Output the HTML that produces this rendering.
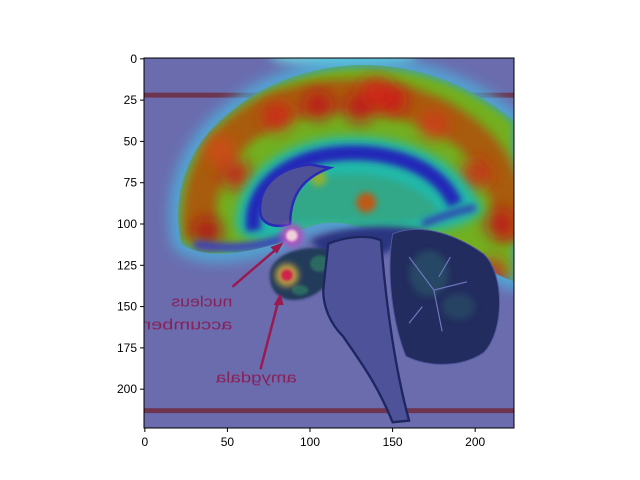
<!DOCTYPE html>
<html><head><meta charset="utf-8">
<style>
html,body{margin:0;padding:0;background:#fff;}
svg{display:block;font-family:"Liberation Sans","DejaVu Sans",sans-serif;}
</style></head>
<body>
<svg id="chart" width="640" height="480" viewBox="0 0 640 480" xmlns="http://www.w3.org/2000/svg">
<defs>
  <filter id="b2" x="-50%" y="-50%" width="200%" height="200%"><feGaussianBlur stdDeviation="2"/></filter>
  <filter id="b3" x="-50%" y="-50%" width="200%" height="200%"><feGaussianBlur stdDeviation="3"/></filter>
  <filter id="b4" x="-50%" y="-50%" width="200%" height="200%"><feGaussianBlur stdDeviation="4.5"/></filter>
  <filter id="b1" x="-50%" y="-50%" width="200%" height="200%"><feGaussianBlur stdDeviation="0.8"/></filter>
  <clipPath id="axclip"><rect x="-0.5" y="-0.5" width="224" height="224"/></clipPath>
  <clipPath id="brainclip"><path d="M22,112 C15,80 28,50 52,32 C75,12 110,2 140,4 C172,6 200,18 224,38 L224,135 C205,128 180,112 158,104 L130,102 C112,96 96,100 86,110 C62,118 36,122 22,112 Z"/></clipPath>
</defs>
<g id="img"></g>
<g id="axes"></g>
</svg>
<script>
const xTicks=[0,50,100,150,200];
const yTicks=[0,25,50,75,100,125,150,175,200];
const heatX=[38,55,80,105,130,150,175,200,215,45,210,140,118,134];
const heatY=[105,70,35,28,30,25,40,70,100,55,130,20,72,86];
const heatV=[0.92,0.88,0.85,0.9,0.9,0.88,0.82,0.85,0.9,0.8,0.85,0.85,0.55,0.9];

const L=144,T=58,S=370/224;
const px=v=>L+(v+0.5)*S, py=v=>T+(v+0.5)*S;
const NS="http://www.w3.org/2000/svg";
function mk(tag,attrs,parent){const e=document.createElementNS(NS,tag);for(const k in attrs)e.setAttribute(k,attrs[k]);parent.appendChild(e);return e;}
function jet(v){const r=Math.min(1,Math.max(0,1.5-Math.abs(4*v-3))),g=Math.min(1,Math.max(0,1.5-Math.abs(4*v-2))),b=Math.min(1,Math.max(0,1.5-Math.abs(4*v-1)));
 const a=0.85,bg=[100,100,160];return `rgb(${Math.round(r*230*a+bg[0]*(1-a))},${Math.round(g*230*a+bg[1]*(1-a))},${Math.round(b*230*a+bg[2]*(1-a))})`;}

const img=document.getElementById('img');
const g=mk('g',{transform:`translate(${L+0.5*S},${T+0.5*S}) scale(${S})`,'clip-path':'url(#axclip)'},img);
mk('rect',{x:-0.5,y:-0.5,width:224,height:224,fill:'#6a6cae'},g);
mk('ellipse',{cx:120,cy:-2,rx:45,ry:7,fill:'#70c8d8',filter:'url(#b3)'},g);
const l1=mk('rect',{x:-0.5,y:20.5,width:224,height:3,fill:'#6e3550'},g);

const l2=mk('rect',{x:-0.5,y:211.5,width:224,height:3,fill:'#6e3550'},g);

const outer="M22,112 C15,80 28,50 52,32 C75,12 110,2 140,4 C172,6 200,18 224,38 L224,135 C205,128 180,112 158,104 L130,102 C112,96 96,100 86,110 C62,118 36,122 22,112 Z";
mk('path',{d:outer,fill:'none',stroke:'#4ab8e0','stroke-width':8,filter:'url(#b4)'},g);
const br=mk('path',{d:outer,fill:'#72b020'},g);

const bg2=mk('g',{'clip-path':'url(#brainclip)'},g);
mk('path',{d:outer,fill:'none',stroke:'#38a0c0','stroke-width':3,filter:'url(#b2)'},bg2);
mk('path',{d:"M34,108 C28,70 50,40 85,28 C125,16 175,22 205,55 C218,70 222,95 224,110",fill:'none',stroke:'#a85c10','stroke-width':20,filter:'url(#b3)'},bg2);
const hg=mk('g',{filter:'url(#b4)'},bg2);
heatX.forEach((x,i)=>{const c=mk('circle',{cx:x,cy:heatY[i],r:9,fill:jet(heatV[i]),opacity:0.8},hg);
});
mk('path',{d:"M55,100 C55,70 85,48 122,47 C160,46 192,62 205,92 C192,104 172,106 158,104 L130,102 C112,96 96,100 86,110 C70,112 56,110 55,100 Z",fill:'#20b8a8',filter:'url(#b3)'},bg2);
mk('path',{d:"M66,104 C62,78 88,58 122,57 C152,56 178,66 188,88",fill:'none',stroke:'#2228b8','stroke-width':9,filter:'url(#b2)'},bg2);
mk('path',{d:"M80,100 C82,82 100,70 125,70 C148,70 168,78 178,92 C165,100 150,100 138,99 L110,98 Z",fill:'#30a888',filter:'url(#b2)'},bg2);
mk('circle',{cx:134,cy:87,r:6,fill:'#c05818',filter:'url(#b2)'},bg2);
mk('circle',{cx:105,cy:72,r:5,fill:'#90b030',filter:'url(#b2)'},bg2);
mk('path',{d:"M168,100 C178,96 190,92 200,90",fill:'none',stroke:'#3040b0','stroke-width':4,filter:'url(#b2)'},bg2);
const vt=mk('path',{d:"M70,94 C68,78 80,66 100,64 L112,66 C96,72 88,82 88,100 C82,102 72,102 70,94 Z",fill:'#4e5098',stroke:'#2a2ab8','stroke-width':1.5},bg2);

mk('path',{d:"M30,112 C50,116 70,114 86,108",fill:'none',stroke:'#3a40c0','stroke-width':5,filter:'url(#b2)'},bg2);
// dark region behind brainstem top / cerebellum
mk('path',{d:"M100,110 C120,100 150,100 170,104 C160,110 150,115 145,118 L110,120 Z",fill:'#2a3480',filter:'url(#b2)'},g);
const cb=mk('path',{d:"M150,106 C165,100 185,104 205,118 C218,130 218,165 205,178 C190,188 170,186 158,180 C150,160 146,130 150,106 Z",fill:'#222c5e',stroke:'#5058a0','stroke-width':0.6},g);

mk('ellipse',{cx:172,cy:130,rx:12,ry:14,fill:'#2a5a6a',opacity:0.6,filter:'url(#b2)'},g);
mk('ellipse',{cx:190,cy:150,rx:10,ry:8,fill:'#2a5a6a',opacity:0.5,filter:'url(#b2)'},g);
mk('path',{d:"M160,120 L175,140 L195,135 M175,140 L180,165 M168,150 L160,160 M185,120 L178,132",fill:'none',stroke:'#7078c0','stroke-width':0.7},g);
mk('path',{d:"M76,128 C80,116 100,112 112,116 L118,122 C112,140 100,146 90,146 C80,146 74,138 76,128 Z",fill:'#223a5a',filter:'url(#b1)'},g);
mk('ellipse',{cx:106,cy:124,rx:6,ry:5,fill:'#2a6a60',filter:'url(#b1)'},g);
mk('ellipse',{cx:94,cy:140,rx:5,ry:3,fill:'#2a6a60',filter:'url(#b1)'},g);
const bs=mk('path',{d:"M111,112 C120,108 135,106 143,110 C146,150 152,190 160,219 L150,220 C140,195 128,180 120,168 C112,160 108,150 108,140 Z",fill:'#4e5298',stroke:'#1c2660','stroke-width':1.4},g);

mk('circle',{cx:89,cy:107,r:7,fill:'#b050c0',filter:'url(#b2)'},g);
const na=mk('circle',{cx:89,cy:107,r:3.5,fill:'#f0d0d8',filter:'url(#b1)'},g);

mk('circle',{cx:86,cy:131,r:7,fill:'#c0a040',filter:'url(#b2)'},g);
const am=mk('circle',{cx:86,cy:131,r:3.5,fill:'#d02050',filter:'url(#b1)'},g);

mk('line',{x1:53,y1:138,x2:81,y2:114,stroke:'#9a1a50','stroke-width':1.5},g);
mk('path',{d:"M84,111 L76,114 L80,118 Z",fill:'#9a1a50'},g);
mk('line',{x1:70,y1:188,x2:81,y2:146,stroke:'#9a1a50','stroke-width':1.5},g);
mk('path',{d:"M82,142 L78,149 L84,149 Z",fill:'#9a1a50'},g);
function mtext(t,x,y,len,name){const e=mk('text',{x:0,y:0,transform:`translate(${x},${y}) scale(-1,1)`,'font-size':9,fill:'#8a2058',textLength:len,lengthAdjust:'spacingAndGlyphs'},g);e.textContent=t;
}
mtext('nucleus',53,150,37,'nucleus-label');mtext('accumbens',53,164,62,'accumbens-label');mtext('amygdala',92,196,49,'amygdala-label');

const ax=document.getElementById('axes');
const fr=mk('rect',{x:L,y:T,width:370,height:370,fill:'none',stroke:'#000','stroke-width':1},ax);

xTicks.forEach(v=>{const x=px(v);mk('line',{x1:x,y1:T+370,x2:x,y2:T+374,stroke:'#000'},ax);
const t=mk('text',{x:x,y:T+388,'font-size':12,'text-anchor':'middle',fill:'#000'},ax);t.textContent=v;
});
yTicks.forEach(v=>{const y=py(v);mk('line',{x1:L-4,y1:y,x2:L,y2:y,stroke:'#000'},ax);
const t=mk('text',{x:L-7,y:y+4,'font-size':12,'text-anchor':'end',fill:'#000'},ax);t.textContent=v;
});
</script>
</body></html>
